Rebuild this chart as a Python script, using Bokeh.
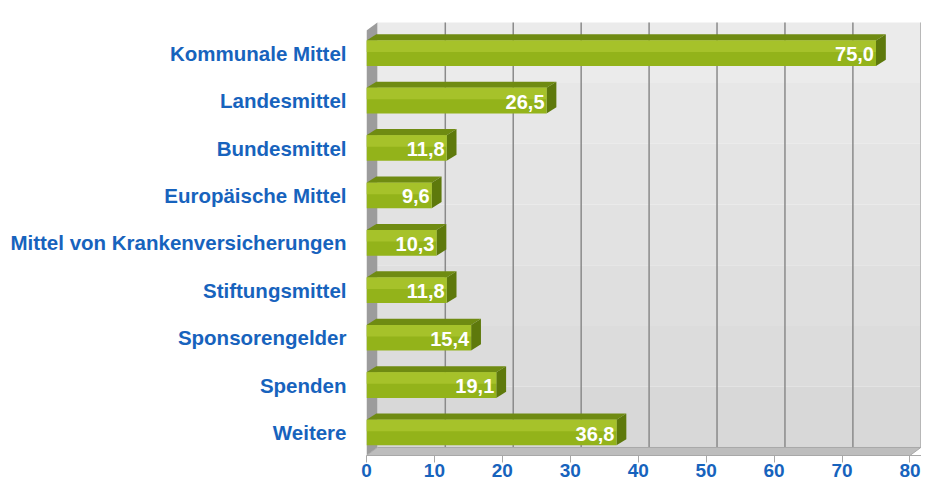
from bokeh.plotting import figure
from bokeh.models import Range1d, FixedTicker, ColumnDataSource
from bokeh.core.properties import value
from bokeh.embed import file_html
from bokeh.resources import INLINE

# ---- data ----
categories = ["Kommunale Mittel", "Landesmittel", "Bundesmittel", "Europäische Mittel",
              "Mittel von Krankenversicherungen", "Stiftungsmittel", "Sponsorengelder",
              "Spenden", "Weitere"]
values = [75.0, 26.5, 11.8, 9.6, 10.3, 11.8, 15.4, 19.1, 36.8]
value_labels = ["75,0", "26,5", "11,8", "9,6", "10,3", "11,8", "15,4", "19,1", "36,8"]
x_ticks = [0, 10, 20, 30, 40, 50, 60, 70, 80]

# ---- 3D geometry (style) ----
X_MAX = 80
X_END = 81.7
Y_START, Y_END = -0.485, 8.69
WALL_DX = 1.6
FLOOR_BACK = -0.316
WALL_TOP = 8.65
LEFT_FRONT_TOP = 8.48
BAR_H = 0.54
BAR_DX = 1.45
BAR_DY = 0.13

BLUE = "#1763bd"
FONT = "Liberation Sans"

n = len(categories)
ys = [n - 1 - i for i in range(n)]

p = figure(width=921, height=482, output_backend="svg", toolbar_location=None,
           x_range=Range1d(0, X_END), y_range=Range1d(Y_START, Y_END),
           min_border_left=366, min_border_right=0, min_border_top=20, min_border_bottom=27)
p.background_fill_color = "white"
p.border_fill_color = "white"
p.outline_line_color = None
p.grid.visible = False

# back wall with soft vertical gradient
wall_cols = ["#d8d8d8", "#dcdcdc", "#dfdfdf", "#e2e2e2", "#e4e4e4", "#e7e7e7", "#ebebeb"]
nb = len(wall_cols)
for k, c in enumerate(wall_cols):
    b = FLOOR_BACK + (WALL_TOP - FLOOR_BACK) * k / nb
    t = FLOOR_BACK + (WALL_TOP - FLOOR_BACK) * (k + 1) / nb
    p.quad(left=WALL_DX, right=X_MAX + WALL_DX, bottom=b, top=t, fill_color=c, line_color=None)

# grid lines on back wall
gx = [t + WALL_DX for t in x_ticks[1:-1]]
p.segment(x0=gx, y0=[FLOOR_BACK] * len(gx), x1=gx, y1=[WALL_TOP] * len(gx),
          line_color="#8a8a8a", line_width=1.5)
p.segment(x0=[X_MAX + WALL_DX], y0=[FLOOR_BACK], x1=[X_MAX + WALL_DX], y1=[WALL_TOP],
          line_color="#b4b4b4", line_width=1.5)

# left wall
p.patch(x=[0, 0, WALL_DX, WALL_DX], y=[Y_START, LEFT_FRONT_TOP, WALL_TOP, FLOOR_BACK],
        fill_color="#9c9c9c", line_color=None)
# floor
p.patch(x=[0, X_MAX, X_MAX + WALL_DX, WALL_DX], y=[Y_START, Y_START, FLOOR_BACK, FLOOR_BACK],
        fill_color="#bdbdbd", line_color="#a8a8a8", line_width=1)

# bars
for y, v in zip(ys, values):
    top = y + BAR_H / 2
    bot = y - BAR_H / 2
    # top face
    p.patch(x=[0, v, v + BAR_DX, BAR_DX], y=[top, top, top + BAR_DY, top + BAR_DY],
            fill_color="#6f8b12", line_color=None)
    # right face
    p.patch(x=[v, v, v + BAR_DX, v + BAR_DX], y=[bot, top, top + BAR_DY, bot + BAR_DY],
            fill_color="#5e790c", line_color=None)

src = ColumnDataSource(dict(y=ys, v=values, lab=value_labels,
                            b=[y - BAR_H / 2 for y in ys], t=[y + BAR_H / 2 for y in ys],
                            m=[y + BAR_H * 0.05 for y in ys]))
p.quad(left=0, right="v", bottom="b", top="t", source=src, fill_color="#93b31a", line_color=None)
p.quad(left=0, right="v", bottom="m", top="t", source=src, fill_color="#a6c22a", line_color=None)

p.text(x="v", y="y", text="lab", source=src, text_align="right", text_baseline="middle",
       x_offset=-2, y_offset=1, text_color="white", text_font=value(FONT),
       text_font_style="bold", text_font_size="20px")

# axes
p.xaxis.ticker = FixedTicker(ticks=x_ticks)
p.xaxis.axis_line_color = "#a8a8a8"
p.xaxis.major_tick_line_color = "#a8a8a8"
p.xaxis.major_tick_out = 7
p.xaxis.major_tick_in = 0
p.xaxis.minor_tick_line_color = None
p.xaxis.major_label_standoff = 1
p.xaxis.major_label_text_color = BLUE
p.xaxis.major_label_text_font = FONT
p.xaxis.major_label_text_font_style = "bold"
p.xaxis.major_label_text_font_size = "19px"

p.yaxis.ticker = FixedTicker(ticks=ys)
p.yaxis.major_label_overrides = {y: c for y, c in zip(ys, categories)}
p.yaxis.axis_line_color = None
p.yaxis.major_tick_line_color = None
p.yaxis.minor_tick_line_color = None
p.yaxis.major_label_standoff = 14
p.yaxis.major_label_text_color = BLUE
p.yaxis.major_label_text_font = FONT
p.yaxis.major_label_text_font_style = "bold"
p.yaxis.major_label_text_font_size = "20.5px"

open("out.html", "w").write(file_html(p, INLINE))
